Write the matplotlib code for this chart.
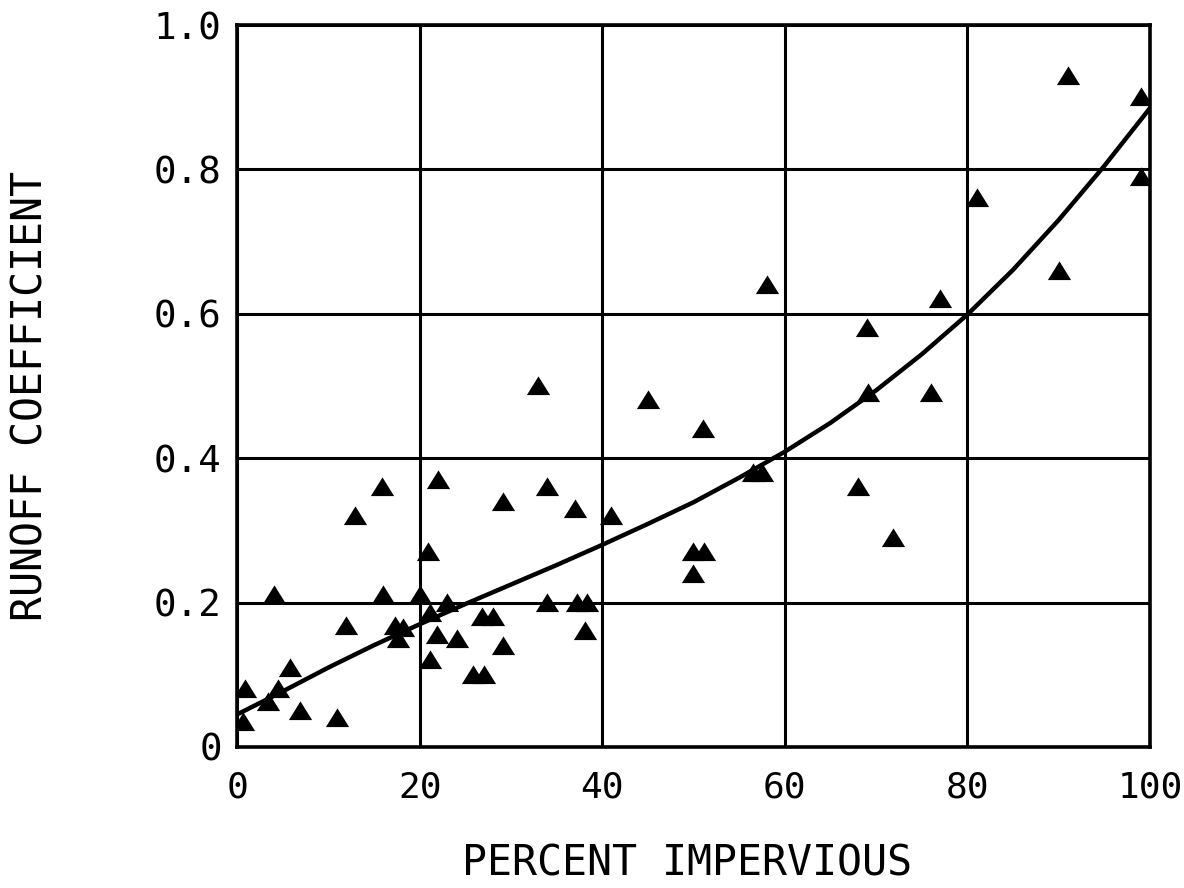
import matplotlib
matplotlib.use("Agg")
import matplotlib.pyplot as plt
from matplotlib.path import Path

imperv = [0.7, 0.9, 3.4, 4.0, 4.5, 5.8, 6.9, 10.9, 11.9, 12.9,
          15.9, 16.0, 17.3, 18.2, 17.6, 20.0, 20.9, 22.0, 21.1, 21.9,
          21.1, 23.0, 24.1, 26.8, 28.0, 29.1, 25.8, 27.1, 29.1, 33.0,
          34.0, 37.0, 41.0, 34.0, 37.2, 38.3, 38.1, 45.0, 51.0, 49.9,
          51.1, 49.9, 56.5, 57.5, 58.0, 68.0, 69.0, 69.1, 71.8, 76.0,
          77.0, 81.0, 90.0, 91.0, 99.0, 99.0]
runoff = [0.035, 0.08, 0.062, 0.21, 0.08, 0.11, 0.05, 0.04, 0.168, 0.32,
          0.36, 0.21, 0.167, 0.165, 0.15, 0.21, 0.27, 0.37, 0.186, 0.155,
          0.12, 0.20, 0.15, 0.18, 0.18, 0.14, 0.10, 0.10, 0.34, 0.50,
          0.36, 0.33, 0.32, 0.20, 0.20, 0.20, 0.16, 0.48, 0.44, 0.27,
          0.27, 0.24, 0.38, 0.38, 0.64, 0.36, 0.58, 0.49, 0.29, 0.49,
          0.62, 0.76, 0.66, 0.93, 0.90, 0.79]

# fitted curve, read every 5 percent
curve_x = [0, 5, 10, 15, 20, 25, 30, 35, 40, 45, 50,
           55, 60, 65, 70, 75, 80, 85, 90, 95, 100]
curve_y = [0.045, 0.077, 0.110, 0.141, 0.170, 0.198, 0.225, 0.252, 0.280, 0.309, 0.339,
           0.373, 0.409, 0.449, 0.494, 0.544, 0.599, 0.661, 0.730, 0.805, 0.885]

x_ticks = [0, 20, 40, 60, 80, 100]
x_ticklabels = ["0", "20", "40", "60", "80", "100"]
y_ticks = [0, 0.2, 0.4, 0.6, 0.8, 1.0]
y_ticklabels = ["0", "0.2", "0.4", "0.6", "0.8", "1.0"]

mono = "DejaVu Sans Mono"

# slightly flattened triangle
tri = Path([(-1.15, -0.85), (1.15, -0.85), (0.0, 1.0), (-1.15, -0.85)],
           [Path.MOVETO, Path.LINETO, Path.LINETO, Path.CLOSEPOLY])

fig = plt.figure(figsize=(11.84, 8.88), dpi=100)
ax = fig.add_axes([0.2002, 0.1588, 0.7711, 0.8130])

ax.plot(curve_x, curve_y, color="black", lw=3.2, solid_capstyle="butt", zorder=3)
ax.scatter(imperv, runoff, marker=tri, s=280, color="black", linewidths=0, zorder=4)

ax.set_xlim(0, 100)
ax.set_ylim(0, 1.0)
ax.set_xticks(x_ticks)
ax.set_yticks(y_ticks)
ax.set_xticklabels(x_ticklabels, fontfamily=mono, fontsize=26)
ax.set_yticklabels(y_ticklabels, fontfamily=mono, fontsize=27)
ax.tick_params(length=0)
ax.tick_params(axis="x", pad=17)
ax.tick_params(axis="y", pad=11)
ax.grid(True, color="black", lw=2.2)
ax.set_axisbelow(True)
for sp in ax.spines.values():
    sp.set_linewidth(2.6)

ax.set_xlabel("PERCENT IMPERVIOUS", fontfamily=mono, fontsize=30, va="center")
ax.set_ylabel("RUNOFF COEFFICIENT", fontfamily=mono, fontsize=30, va="center", ha="center")
ax.xaxis.set_label_coords(0.493, -0.162)
ax.yaxis.set_label_coords(-0.226, 0.486)

fig.savefig("out.png", dpi=100, facecolor="white")
